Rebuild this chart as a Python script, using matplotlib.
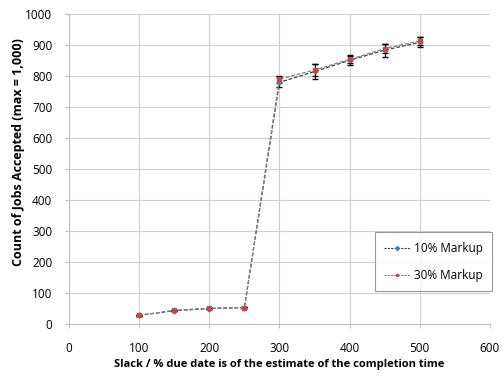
import matplotlib
matplotlib.use("Agg")
import matplotlib.pyplot as plt
from matplotlib.lines import Line2D

# slack values (% of estimated completion time)
slack = [100, 150, 200, 250, 300, 350, 400, 450, 500]

# accepted jobs for each markup
markup10 = [28, 43, 50, 53, 780, 815, 851, 884, 909]
markup30 = [28, 44, 51, 53, 790, 820, 854, 889, 914]
err10 = [2, 2, 2, 2, 16, 24, 16, 21, 16]
err30 = [2, 2, 2, 2, 12, 18, 12, 14, 12]

plt.rcParams['font.family'] = ['Open Sans', 'DejaVu Sans']

fig = plt.figure(figsize=(5.04, 3.83), dpi=100)
ax = fig.add_axes([0.137, 0.154, 0.835, 0.809])

ax.errorbar(slack, markup10, yerr=err10, color="#404040", linestyle="--", dashes=(3, 1.5),
            linewidth=0.9, marker="D", markersize=2.5, markerfacecolor="#4a7ebb",
            markeredgecolor="#4a7ebb", ecolor="black", elinewidth=0.8, capsize=2)
ax.errorbar(slack, markup30, yerr=err30, color="#808080", linestyle="--", dashes=(3, 1.5),
            linewidth=0.9, marker="s", markersize=2.5, markerfacecolor="#be4b48",
            markeredgecolor="#be4b48", ecolor="black", elinewidth=0.8, capsize=2)

ax.set_xlim(0, 600)
ax.set_ylim(0, 1000)
ax.set_xticks(range(0, 601, 100))
ax.set_yticks(range(0, 1001, 100))
ax.tick_params(axis="x", labelsize=8.5, length=3, color="#bfbfbf", pad=10)
ax.tick_params(axis="y", labelsize=8.5, length=3, color="#bfbfbf", pad=9)
ax.grid(color="#d0d0d0", linewidth=0.8)
ax.set_axisbelow(True)
for s in ["top", "right"]:
    ax.spines[s].set_visible(False)
for s in ["left", "bottom"]:
    ax.spines[s].set_color("#bfbfbf")

ax.set_xlabel("Slack / % due date is of the estimate of the completion time",
              fontsize=8, fontweight="bold", labelpad=3)
ax.set_ylabel("Count of Jobs Accepted (max = 1,000)", fontsize=9, fontweight="bold")
ax.yaxis.set_label_coords(-0.105, 0.555)

handles = [
    Line2D([], [], color="#404040", linestyle="--", dashes=(2, 1), linewidth=0.8,
           marker="D", markersize=2, markerfacecolor="#4a7ebb", markeredgecolor="#4a7ebb"),
    Line2D([], [], color="#808080", linestyle="--", dashes=(2, 1), linewidth=0.8,
           marker="s", markersize=2, markerfacecolor="#be4b48", markeredgecolor="#be4b48"),
]
leg = ax.legend(handles, ["10% Markup", "30% Markup"], loc="lower right",
                bbox_to_anchor=(1.005, 0.105), fontsize=8.5, frameon=True,
                fancybox=False, edgecolor="#808080", labelspacing=1.2, handlelength=2.2,
                handletextpad=0.3, borderpad=0.8, borderaxespad=0)
leg.get_frame().set_linewidth(0.8)

fig.savefig("out.png", dpi=100)
